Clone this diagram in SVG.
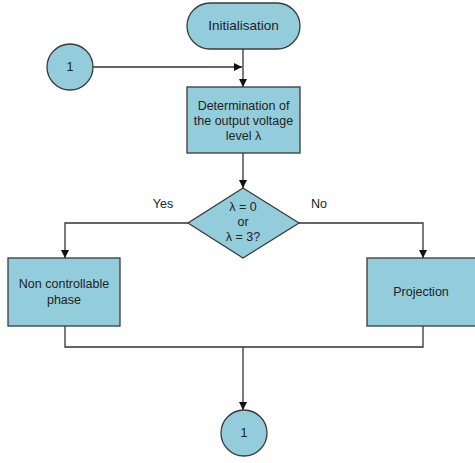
<svg xmlns="http://www.w3.org/2000/svg" width="475" height="463" viewBox="0 0 475 463">
<style>
.n{fill:#93CDDB;stroke:#3a3a3a;stroke-width:1.3}
.t{font-family:"Liberation Sans",Arial,sans-serif;font-size:12.5px;fill:#222;text-anchor:middle}
.c{fill:none;stroke:#333;stroke-width:1.3}
</style>
<defs>
<marker id="a" viewBox="0 0 10 10" refX="10" refY="5" markerWidth="8" markerHeight="8" markerUnits="userSpaceOnUse" orient="auto">
<path d="M0,0L10,5L0,10z" fill="#111"/>
</marker>
</defs>
<rect width="475" height="463" fill="#fff"/>
<g id="connectors">
<path class="c" d="M93,67H242" marker-end="url(#a)"/>
<path class="c" d="M243,49V87" marker-end="url(#a)"/>
<path class="c" d="M243,153V188" marker-end="url(#a)"/>
<path class="c" d="M188,223H65V258" marker-end="url(#a)"/>
<path class="c" d="M299,223H423V258" marker-end="url(#a)"/>
<path class="c" d="M65,326V347H423V326"/>
<path class="c" d="M243,347V410" marker-end="url(#a)"/>
</g>
<g id="init">
<rect class="n" x="187" y="3" width="113" height="46" rx="23"/>
<text class="t" x="243.5" y="30" style="font-size:13.5px">Initialisation</text>
</g>
<g id="c1top">
<circle class="n" cx="70" cy="67" r="23"/>
<text class="t" x="70" y="71">1</text>
</g>
<g id="determ">
<rect class="n" x="187" y="87" width="113" height="66"/>
<text class="t" x="243.5" y="110">Determination of</text>
<text class="t" x="243.5" y="125">the output voltage</text>
<text class="t" x="243.5" y="140">level λ</text>
</g>
<g id="decision">
<polygon class="n" points="243,188 299,223 243,258 188,223"/>
<text class="t" x="243" y="211">λ = 0</text>
<text class="t" x="243" y="226">or</text>
<text class="t" x="243" y="241">λ = 3?</text>
</g>
<g id="noncontrol">
<rect class="n" x="8" y="258" width="112" height="68"/>
<text class="t" x="64" y="288">Non controllable</text>
<text class="t" x="64" y="304">phase</text>
</g>
<g id="projection">
<rect class="n" x="367" y="258" width="110" height="68"/>
<text class="t" x="421" y="296">Projection</text>
</g>
<g id="c1bottom">
<circle class="n" cx="244" cy="433" r="23"/>
<text class="t" x="244" y="437">1</text>
</g>
<g id="labels">
<text class="t" x="163" y="208">Yes</text>
<text class="t" x="319" y="208">No</text>
</g>
</svg>
